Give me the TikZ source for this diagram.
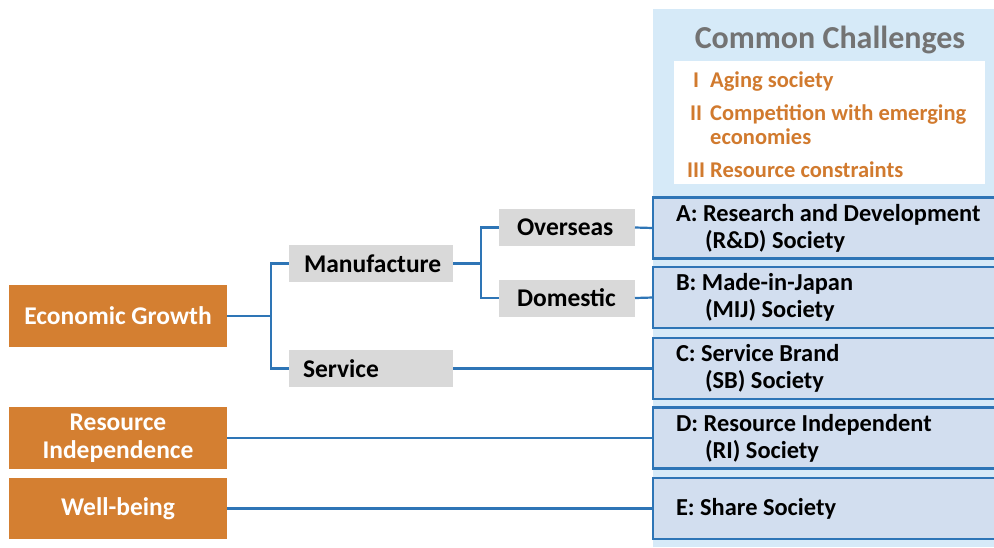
\documentclass[tikz,border=0pt]{standalone}
\usepackage{fontspec}
\setmainfont{Carlito}
\definecolor{orangefill}{HTML}{D47F31}
\definecolor{grayfill}{HTML}{D9D9D9}
\definecolor{bgblue}{HTML}{D6EAF8}
\definecolor{socfill}{HTML}{D2DEEF}
\definecolor{lineblue}{HTML}{2E75B6}
\definecolor{chalorange}{HTML}{D17A2E}
\definecolor{titlegray}{HTML}{737373}
\frenchspacing
\begin{document}
\begin{tikzpicture}[x=1pt,y=-1pt,
  conn/.style={draw=lineblue, line width=2.2pt},
  bodyfont/.style={font=\fontsize{25.5}{27.5}\selectfont\bfseries},
  socfont/.style={font=\fontsize{24.4}{27}\selectfont\bfseries},
  orangebox/.style={bodyfont, fill=orangefill, text=white, minimum width=218pt, minimum height=62pt, inner sep=0pt, outer sep=0pt, align=center},
  graybox/.style={bodyfont, fill=grayfill, minimum height=37pt, inner ysep=0pt, outer sep=0pt, anchor=west, align=flush left},
  socbox/.style={socfont, draw=lineblue, line width=2.2pt, fill=socfill, minimum height=61pt, inner xsep=23pt, inner ysep=0pt, outer sep=0pt, text width=330pt, align=flush left, anchor=west}
]
\useasboundingbox (0,0) rectangle (994,547);
% background panel
\fill[bgblue] (653,9) rectangle (996,547);
\fill[white] (674,61) rectangle (985,184);
\node[font=\fontsize{32}{35}\selectfont\bfseries, text=titlegray, inner sep=0pt, anchor=base] (title) at (830,48) {Common Challenges};
\node[font=\fontsize{22.5}{24}\selectfont\bfseries, text=chalorange, inner sep=0pt, anchor=base west] (chal) at (687,87)
  {\begin{tabular}[t]{@{}c@{\hspace{5pt}}l@{}}
   I & Aging society\\[9pt]
   II & Competition with emerging\\
      & economies\\[9pt]
   III & Resource constraints
   \end{tabular}};
% left boxes
\node[orangebox] (econ) at (118,316) {Economic Growth};
\node[orangebox] (resind) at (118,438) {Resource\\Independence};
\node[orangebox, minimum height=61pt] (well) at (118,508.5) {Well-being};
% gray boxes
\node[graybox, inner xsep=15pt, text width=134pt] (manu) at (289,263.5) {Manufacture};
\node[graybox, inner xsep=14pt, text width=136pt] (serv) at (289,368.5) {Service};
\node[graybox, inner xsep=18pt, text width=100pt] (over) at (499,227.5) {Overseas};
\node[graybox, inner xsep=18pt, text width=100pt] (dome) at (499,298) {Domestic};
% society boxes
\node[socbox] (socA) at (653,228) {A: Research and Development\\\hspace*{29pt}(R\&D) Society};
\node[socbox] (socB) at (653,297.5) {B: Made-in-Japan\\\hspace*{29pt}(MIJ) Society};
\node[socbox] (socC) at (653,368.5) {C: Service Brand\\\hspace*{29pt}(SB) Society};
\node[socbox] (socD) at (653,438) {D: Resource Independent\\\hspace*{29pt}(RI) Society};
\node[socbox] (socE) at (653,508.5) {E: Share Society};
% connectors
\coordinate (j1) at (271,316);
\coordinate (j2) at (481,263.5);
\draw[conn] (econ.east) -- (j1) |- (manu.west);
\draw[conn] (j1) |- (serv.west);
\draw[conn] (manu.east) -- (j2) |- (over.west);
\draw[conn] (j2) |- (dome.west);
\draw[conn] (over.east) -- (socA.west);
\draw[conn] (dome.east) -- (socB.west);
\draw[conn] (serv.east) -- (socC.west);
\draw[conn] (resind.east) -- (socD.west);
\draw[conn] (well.east) -- (socE.west);
\end{tikzpicture}
\end{document}
